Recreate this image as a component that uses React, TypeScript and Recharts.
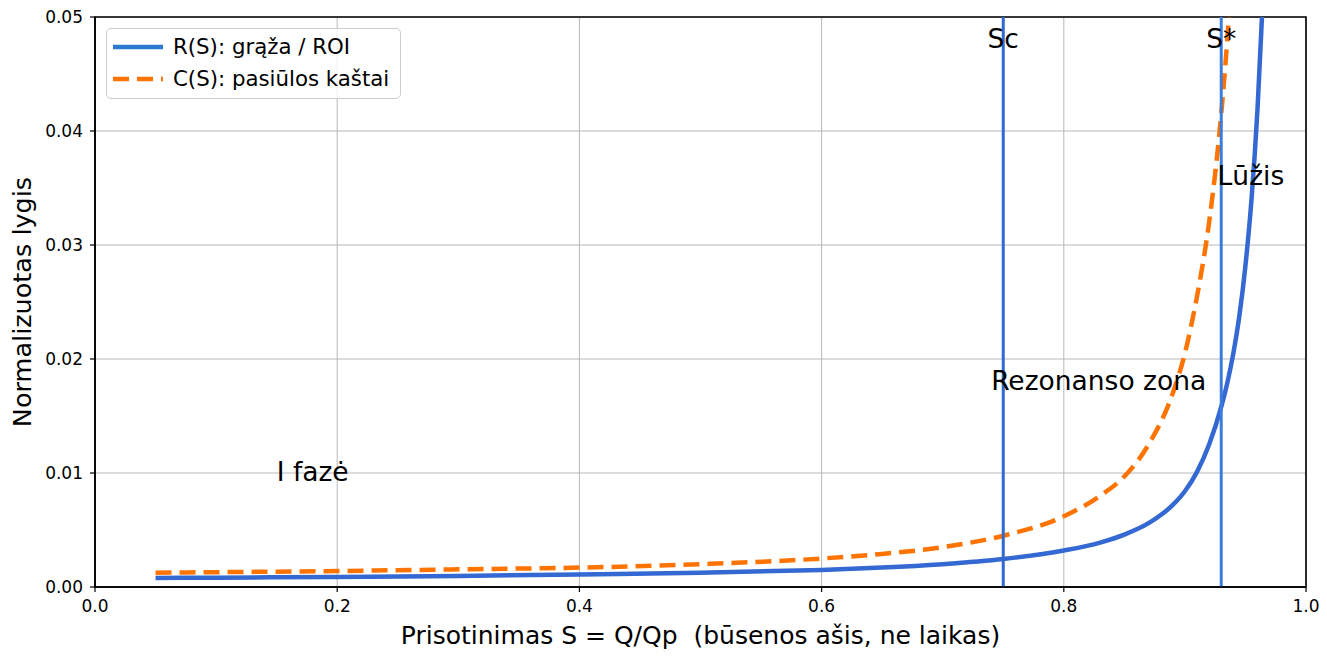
import {
  CartesianGrid,
  Legend,
  Line,
  LineChart,
  ReferenceArea,
  ReferenceDot,
  ReferenceLine,
  XAxis,
  YAxis
} from "recharts";

// saturation S = Q/Qp
const saturation = [
  0.05, 0.1, 0.2, 0.3, 0.4, 0.5, 0.6, 0.65, 0.7, 0.75, 0.8, 0.83, 0.85, 0.87, 0.89, 0.9, 0.91,
  0.92, 0.93, 0.935, 0.94, 0.945, 0.95, 0.955, 0.96, 0.965
];

// R(S): return / ROI
const returnLevel = [
  0.00079, 0.00082, 0.00088, 0.00097, 0.0011, 0.00125, 0.0015, 0.0017, 0.002, 0.00245, 0.0032,
  0.0039, 0.0046, 0.0056, 0.0072, 0.0084, 0.0101, 0.0125, 0.0158, 0.0179, 0.0205, 0.0238,
  0.0282, 0.034, 0.042, 0.053
];

// C(S): supply cost, leaves the frame just after S*
const supplyCost = [
  0.00126, 0.0013, 0.0014, 0.00155, 0.0017, 0.002, 0.0025, 0.0029, 0.0035, 0.0045, 0.0062,
  0.008, 0.0097, 0.0125, 0.017, 0.0205, 0.0255, 0.032, 0.0415, 0.048, 0.056, null, null, null,
  null, null
];

const xTicks = [0, 0.2, 0.4, 0.6, 0.8, 1.0];
const yTicks = [0, 0.01, 0.02, 0.03, 0.04, 0.05];

const thresholds = [
  { label: "Sc", s: 0.75, color: "#3169d2" },
  { label: "S*", s: 0.93, color: "#3a7ddc" }
];
const thresholdLabelLevel = 0.048;

const notes = [
  { text: "I fazė", s: 0.15, level: 0.01 },
  { text: "Rezonanso zona", s: 0.74, level: 0.018 },
  { text: "Lūžis", s: 0.927, level: 0.036 }
];

const series = [
  { key: "R", name: "R(S): grąža / ROI", color: "#3468d2", swatch: "#2a78cf", dash: undefined },
  { key: "C", name: "C(S): pasiūlos kaštai", color: "#ff7300", swatch: "#ff7300", dash: "16 8" }
];

const data = saturation.map((s, i) => ({ s, R: returnLevel[i], C: supplyCost[i] }));

const FONT = "'DejaVu Sans', sans-serif";

function NoteText(props: any) {
  const { viewBox, text, anchor } = props;
  return (
    <text
      x={viewBox.x}
      y={viewBox.y + 8}
      textAnchor={anchor}
      fontFamily={FONT}
      fontSize={26.5}
      fill="#000"
    >
      {text}
    </text>
  );
}

function XTitle(props: any) {
  const { viewBox } = props;
  return (
    <text
      x={viewBox.x + viewBox.width / 2}
      y={viewBox.y + 57}
      textAnchor="middle"
      fontFamily={FONT}
      fontSize={25}
      fill="#000"
    >
      Prisotinimas S = Q/Qp{"\u00a0\u00a0"}(būsenos ašis, ne laikas)
    </text>
  );
}

function YTitle(props: any) {
  const { viewBox } = props;
  const cy = viewBox.y + viewBox.height / 2;
  return (
    <text
      transform={`translate(31, ${cy}) rotate(-90)`}
      textAnchor="middle"
      fontFamily={FONT}
      fontSize={25.5}
      fill="#000"
    >
      Normalizuotas lygis
    </text>
  );
}

function LegendBox() {
  return (
    <div
      style={{
        position: "relative",
        width: 295,
        height: 71,
        boxSizing: "border-box",
        background: "rgba(255,255,255,0.8)",
        border: "1px solid #cccccc",
        borderRadius: 5,
        fontFamily: FONT,
        fontSize: 21.3,
        color: "#000"
      }}
    >
      {series.map((item, i) => (
        <div key={item.key} style={{ position: "absolute", left: 0, top: 4 + i * 32, height: 28, width: "100%" }}>
          <svg width={60} height={28} style={{ position: "absolute", left: 4, top: 0 }}>
            <line
              x1={2}
              x2={52}
              y1={14}
              y2={14}
              stroke={item.swatch}
              strokeWidth={4.5}
              strokeDasharray={item.dash}
            />
          </svg>
          <span style={{ position: "absolute", left: 66, top: 0, lineHeight: "28px", whiteSpace: "nowrap" }}>
            {item.name}
          </span>
        </div>
      ))}
    </div>
  );
}

export default function App() {
  const tickStyle = { fill: "#000", fontSize: 17, fontFamily: FONT };
  return (
    <div style={{ width: 1327, height: 664, background: "#fff" }}>
      <style>{"body{margin:0}"}</style>
      <LineChart width={1327} height={664} data={data} margin={{ top: 17, right: 21, bottom: 0, left: 0 }}>
        <CartesianGrid stroke="#b8b8b8" strokeWidth={1} />
        <XAxis
          dataKey="s"
          type="number"
          domain={[0, 1]}
          ticks={xTicks}
          tickFormatter={(v: number) => v.toFixed(1)}
          height={77}
          allowDataOverflow
          axisLine={{ stroke: "#000", strokeWidth: 1.6 }}
          tickLine={{ stroke: "#000", strokeWidth: 1.2 }}
          tickSize={5}
          tickMargin={8}
          tick={tickStyle}
          label={<XTitle />}
        />
        <YAxis
          type="number"
          domain={[0, 0.05]}
          ticks={yTicks}
          tickFormatter={(v: number) => v.toFixed(2)}
          width={95}
          allowDataOverflow
          axisLine={{ stroke: "#000", strokeWidth: 1.6 }}
          tickLine={{ stroke: "#000", strokeWidth: 1.2 }}
          tickSize={5}
          tickMargin={7}
          tick={tickStyle}
          label={<YTitle />}
        />
        {series.map((item) => (
          <Line
            key={item.key}
            dataKey={item.key}
            name={item.name}
            type="monotone"
            stroke={item.color}
            strokeWidth={4.5}
            strokeDasharray={item.dash}
            dot={false}
            activeDot={false}
            connectNulls={false}
            isAnimationActive={false}
          />
        ))}
        {thresholds.map((t) => (
          <ReferenceLine key={t.label} x={t.s} stroke={t.color} strokeWidth={3} />
        ))}
        {thresholds.map((t) => (
          <ReferenceDot
            key={`lbl-${t.label}`}
            x={t.s}
            y={thresholdLabelLevel}
            r={0}
            fill="none"
            stroke="none"
            label={<NoteText text={t.label} anchor="middle" />}
          />
        ))}
        {notes.map((n) => (
          <ReferenceDot
            key={n.text}
            x={n.s}
            y={n.level}
            r={0}
            fill="none"
            stroke="none"
            label={<NoteText text={n.text} anchor="start" />}
          />
        ))}
        <ReferenceArea x1={0} x2={1} y1={0} y2={0.05} fill="none" stroke="#000" strokeWidth={1.6} />
        <Legend
          layout="vertical"
          align="center"
          verticalAlign="middle"
          wrapperStyle={{ left: 106, top: 28, width: 295, height: 71 }}
          content={<LegendBox />}
        />
      </LineChart>
    </div>
  );
}
